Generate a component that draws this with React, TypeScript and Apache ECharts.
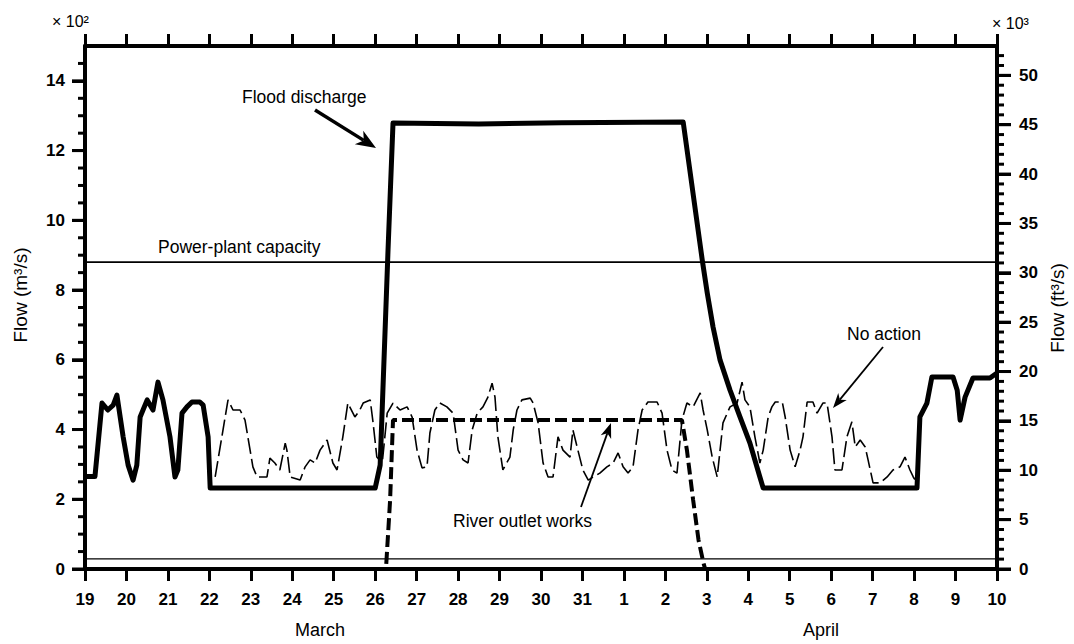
import React, { useEffect, useRef } from 'react';
import * as echarts from 'echarts';

// ---------- data ----------
// x values are days counted from 19 March (0) to 10 April (22)
const dayLabels = ['19', '20', '21', '22', '23', '24', '25', '26', '27', '28', '29', '30', '31',
  '1', '2', '3', '4', '5', '6', '7', '8', '9', '10'];

// left axis (x 10^2 m3/s): labelled every 2, ticks every 0.5
const leftInterval = 2;
const leftTickValues = [0, 0.5, 1, 1.5, 2, 2.5, 3, 3.5, 4, 4.5, 5, 5.5, 6, 6.5, 7, 7.5, 8, 8.5, 9, 9.5,
  10, 10.5, 11, 11.5, 12, 12.5, 13, 13.5, 14, 14.5];
// right axis (x 10^3 ft3/s): labelled every 5, ticks every 1
const rightInterval = 5;
const rightTickValues = [0, 1, 2, 3, 4, 5, 6, 7, 8, 9, 10, 11, 12, 13, 14, 15, 16, 17, 18, 19, 20, 21, 22,
  23, 24, 25, 26, 27, 28, 29, 30, 31, 32, 33, 34, 35, 36, 37, 38, 39, 40, 41, 42, 43, 44, 45, 46, 47, 48,
  49, 50, 51, 52];

const xMin = 0;
const xMax = 22;
const leftMax = 15; // x 10^2 m3/s
const cubicFeetPerCubicMetre = 35.3147;
const rightMax = (leftMax * 100 * cubicFeetPerCubicMetre) / 1000; // x 10^3 ft3/s

const floodDischarge: [number, number][] = [
  [0, 2.65], [0.24, 2.65], [0.41, 4.76], [0.55, 4.56], [0.68, 4.7], [0.77, 4.99], [0.92, 3.79],
  [1.04, 2.98], [1.16, 2.55], [1.25, 2.98], [1.33, 4.36], [1.5, 4.85], [1.64, 4.56], [1.76, 5.36],
  [1.88, 4.85], [2.05, 3.79], [2.17, 2.64], [2.24, 2.84], [2.34, 4.47], [2.46, 4.65], [2.58, 4.79],
  [2.77, 4.79], [2.85, 4.7], [2.97, 3.79], [3.02, 2.32], [7.0, 2.32], [7.12, 2.98], [7.31, 9.15],
  [7.43, 12.79], [9.5, 12.76], [11.5, 12.8], [14.43, 12.82], [14.89, 8.86], [15.01, 7.92],
  [15.15, 6.94], [15.32, 5.99], [15.56, 5.13], [15.8, 4.36], [16.04, 3.61], [16.28, 2.64],
  [16.36, 2.32], [20.07, 2.32], [20.14, 4.36], [20.31, 4.76], [20.43, 5.51], [20.94, 5.51],
  [21.04, 5.13], [21.11, 4.27], [21.23, 4.93], [21.42, 5.48], [21.83, 5.48], [22, 5.62],
];

const riverOutletWorks: [number, number][] = [
  [0, 0], [7.26, 0], [7.36, 1.98], [7.43, 4.27], [14.4, 4.27], [14.52, 3.41], [14.67, 1.98],
  [14.8, 0.83], [14.92, 0.17], [14.96, 0], [22, 0],
];

const noAction: [number, number][] = [
  [3.14, 2.64], [3.45, 4.85], [3.57, 4.56], [3.74, 4.56], [3.86, 4.27], [4.05, 2.93], [4.15, 2.64],
  [4.39, 2.64], [4.46, 3.18], [4.58, 3.04], [4.7, 2.84], [4.83, 3.61], [4.87, 3.41], [4.95, 2.64],
  [5.19, 2.55], [5.31, 2.93], [5.43, 3.13], [5.55, 3.04], [5.67, 3.41], [5.84, 3.7], [5.98, 3.04],
  [6.08, 2.84], [6.22, 3.79], [6.34, 4.76], [6.51, 4.36], [6.63, 4.56], [6.71, 4.76], [6.88, 4.85],
  [6.95, 4.19], [7.04, 3.21], [7.17, 3.04], [7.29, 4.47], [7.43, 4.76], [7.6, 4.56], [7.77, 4.65],
  [7.89, 4.36], [8.01, 3.41], [8.13, 2.9], [8.25, 2.93], [8.32, 3.9], [8.44, 4.56], [8.56, 4.76],
  [8.73, 4.65], [8.88, 4.47], [9.0, 3.41], [9.12, 3.13], [9.24, 3.04], [9.34, 3.99], [9.46, 4.47],
  [9.6, 4.65], [9.72, 4.93], [9.82, 5.33], [9.89, 4.93], [9.96, 3.79], [10.08, 2.84], [10.25, 3.21],
  [10.33, 3.99], [10.42, 4.56], [10.54, 4.85], [10.74, 4.9], [10.81, 4.76], [10.93, 4.19],
  [11.05, 3.04], [11.17, 2.64], [11.29, 2.64], [11.41, 3.79], [11.53, 3.41], [11.7, 3.21],
  [11.77, 3.99], [11.89, 3.41], [12.01, 2.84], [12.14, 2.55], [12.26, 2.64], [12.42, 2.75],
  [12.59, 2.93], [12.74, 3.04], [12.86, 3.33], [12.98, 2.93], [13.1, 2.75], [13.22, 2.93],
  [13.34, 3.99], [13.44, 4.56], [13.58, 4.79], [13.8, 4.79], [13.92, 4.47], [14.04, 3.41],
  [14.16, 2.84], [14.28, 2.75], [14.4, 4.27], [14.52, 4.76], [14.67, 4.65], [14.84, 5.05],
  [14.91, 4.56], [15.01, 3.99], [15.13, 3.21], [15.25, 2.64], [15.39, 4.19], [15.56, 4.65],
  [15.73, 4.76], [15.85, 5.36], [15.92, 4.85], [16.04, 4.65], [16.16, 3.79], [16.28, 3.04],
  [16.36, 3.41], [16.48, 4.36], [16.57, 4.65], [16.65, 4.79], [16.82, 4.79], [16.89, 4.36],
  [17.01, 3.41], [17.13, 2.93], [17.25, 3.41], [17.32, 3.79], [17.42, 4.79], [17.56, 4.79],
  [17.66, 4.47], [17.8, 4.76], [17.9, 4.76], [18.02, 3.79], [18.09, 2.84], [18.26, 2.84],
  [18.38, 3.79], [18.5, 4.22], [18.58, 3.5], [18.7, 3.7], [18.82, 3.5], [18.89, 3.13],
  [19.01, 2.47], [19.18, 2.47], [19.35, 2.64], [19.49, 2.84], [19.66, 2.93], [19.78, 3.21],
  [19.9, 2.84], [19.98, 2.64], [20.07, 2.47],
];

const powerPlantCapacity = 8.8;
const lowFlowLine = 0.29;

// ---------- styles ----------
const FONT = '"Liberation Sans", Arial, Helvetica, sans-serif';
const INK = '#000';

function arrow(x1: number, y1: number, x2: number, y2: number, width: number, headLen: number, headW: number) {
  const dx = x2 - x1;
  const dy = y2 - y1;
  const L = Math.hypot(dx, dy);
  const ux = dx / L;
  const uy = dy / L;
  const px = -uy;
  const py = ux;
  const bx = x2 - ux * headLen;
  const by = y2 - uy * headLen;
  const nx = x2 - ux * headLen * 0.72;
  const ny = y2 - uy * headLen * 0.72;
  return [
    { type: 'line', z: 100, shape: { x1, y1, x2: nx, y2: ny }, style: { stroke: INK, lineWidth: width } },
    {
      type: 'polygon', z: 100,
      shape: { points: [[x2, y2], [bx + px * headW, by + py * headW], [nx, ny], [bx - px * headW, by - py * headW]] },
      style: { fill: INK },
    },
  ];
}

function label(text: string, x: number, y: number, size: number, extra: any = {}) {
  return {
    type: 'text', z: 100, x, y, ...extra,
    style: { text, fill: INK, font: `${size}px ${FONT}`, align: 'left', verticalAlign: 'middle', ...(extra.style || {}) },
  };
}

export default function App() {
  const ref = useRef<HTMLDivElement>(null);
  useEffect(() => {
    const chart = echarts.init(ref.current!, null, { renderer: 'svg' });
    const axisText = { fontSize: 17, color: INK, fontFamily: FONT, fontWeight: 'bold' };
    const baseGraphic: any[] = [
      label('× 10²', 52, 21, 16),
      label('× 10³', 992, 23, 16),
      label('Flow (m³/s)', 20, 295, 19, { rotation: Math.PI / 2, style: { align: 'center' } }),
      label('Flow (ft³/s)', 1057, 308, 19, { rotation: Math.PI / 2, style: { align: 'center' } }),
      label('March', 320, 630, 18, { style: { align: 'center' } }),
      label('April', 821, 630, 18, { style: { align: 'center' } }),
      label('Flood discharge', 242, 97, 17.5),
      label('Power-plant capacity', 158, 247, 17.5),
      label('No action', 847, 334, 17.5),
      label('River outlet works', 453, 521, 17.5),
      ...arrow(315, 110, 376, 148, 3.5, 20, 8),
      ...arrow(883, 347, 833, 408, 1.8, 15, 5.5),
      ...arrow(581, 507, 611, 423, 1.8, 15, 5.5),
    ];
    const option: any = {
      animation: false,
      backgroundColor: '#fff',
      grid: { left: 85, right: 77, top: 46, bottom: 75, containLabel: false },
      xAxis: [
        {
          type: 'value', min: xMin, max: xMax, interval: 1, position: 'bottom',
          axisLine: { show: true, onZero: false, lineStyle: { color: INK, width: 4 } },
          axisTick: { show: true, inside: false, length: 12, lineStyle: { color: INK, width: 3 } },
          axisLabel: { ...axisText, margin: 22, formatter: (v: number) => dayLabels[Math.round(v)] ?? '' },
          splitLine: { show: false },
        },
        {
          type: 'value', min: xMin, max: xMax, interval: 1, position: 'top',
          axisLine: { show: true, onZero: false, lineStyle: { color: INK, width: 4 } },
          axisTick: { show: true, inside: false, length: 12, lineStyle: { color: INK, width: 3 } },
          axisLabel: { show: false },
          splitLine: { show: false },
        },
      ],
      yAxis: [
        {
          type: 'value', min: 0, max: leftMax, interval: leftInterval, position: 'left',
          axisLine: { show: true, onZero: false, lineStyle: { color: INK, width: 4 } },
          axisTick: { show: true, length: 13, lineStyle: { color: INK, width: 3 } },
          axisLabel: {
            ...axisText, margin: 20, showMaxLabel: false,
            formatter: (v: number) => (v % leftInterval === 0 ? String(v) : ''),
          },
          splitLine: { show: false },
        },
        {
          type: 'value', min: 0, max: rightMax, interval: rightInterval, position: 'right',
          axisLine: { show: true, onZero: false, lineStyle: { color: INK, width: 4 } },
          axisTick: { show: true, length: 14, lineStyle: { color: INK, width: 3 } },
          axisLabel: {
            ...axisText, margin: 22, showMaxLabel: false,
            formatter: (v: number) => (v % rightInterval === 0 ? String(v) : ''),
          },
          splitLine: { show: false },
        },
      ],
      series: [
        {
          name: 'Power-plant capacity', type: 'line', symbol: 'none', xAxisIndex: 0, yAxisIndex: 0,
          data: [[xMin, powerPlantCapacity], [xMax, powerPlantCapacity]],
          lineStyle: { color: INK, width: 1.6 }, z: 2,
        },
        {
          name: 'Low flow', type: 'line', symbol: 'none', xAxisIndex: 0, yAxisIndex: 0,
          data: [[xMin, lowFlowLine], [xMax, lowFlowLine]],
          lineStyle: { color: INK, width: 1.3 }, z: 2,
        },
        {
          name: 'No action', type: 'line', symbol: 'none', xAxisIndex: 0, yAxisIndex: 0,
          data: noAction,
          lineStyle: { color: INK, width: 1.6, type: [16, 5] }, z: 3,
        },
        {
          name: 'River outlet works', type: 'line', symbol: 'none', xAxisIndex: 0, yAxisIndex: 0,
          data: riverOutletWorks,
          lineStyle: { color: INK, width: 4, type: [12, 5] }, z: 4,
        },
        {
          name: 'Flood discharge', type: 'line', symbol: 'none', xAxisIndex: 0, yAxisIndex: 0,
          data: floodDischarge,
          lineStyle: { color: INK, width: 5, join: 'round' }, z: 5,
        },
        { type: 'line', data: [], xAxisIndex: 0, yAxisIndex: 1 },
      ],
    };
    chart.setOption(option);

    // y-axis tick marks (major and minor) placed through the axis scales, drawn as filled bars
    const tickEls: any[] = [];
    const xLeft = chart.convertToPixel({ xAxisIndex: 0 }, xMin) as number;
    const xRight = chart.convertToPixel({ xAxisIndex: 0 }, xMax) as number;
    leftTickValues.forEach((v) => {
      const y = chart.convertToPixel({ yAxisIndex: 0 }, v) as number;
      const len = v % leftInterval === 0 ? 13 : 7;
      tickEls.push({ type: 'rect', z: 50, shape: { x: xLeft - len, y: y - 1.5, width: len + 1, height: 3 }, style: { fill: INK } });
    });
    rightTickValues.forEach((v) => {
      const y = chart.convertToPixel({ yAxisIndex: 1 }, v) as number;
      const len = v % rightInterval === 0 ? 14 : 7;
      tickEls.push({ type: 'rect', z: 50, shape: { x: xRight - 1, y: y - 1.5, width: len + 1, height: 3 }, style: { fill: INK } });
    });
    chart.setOption({ graphic: [...baseGraphic, ...tickEls] });
    return () => chart.dispose();
  }, []);
  return (
    <div
      ref={ref}
      style={{ position: 'fixed', left: 0, top: 0, width: 1074, height: 644, background: '#fff' }}
    />
  );
}
